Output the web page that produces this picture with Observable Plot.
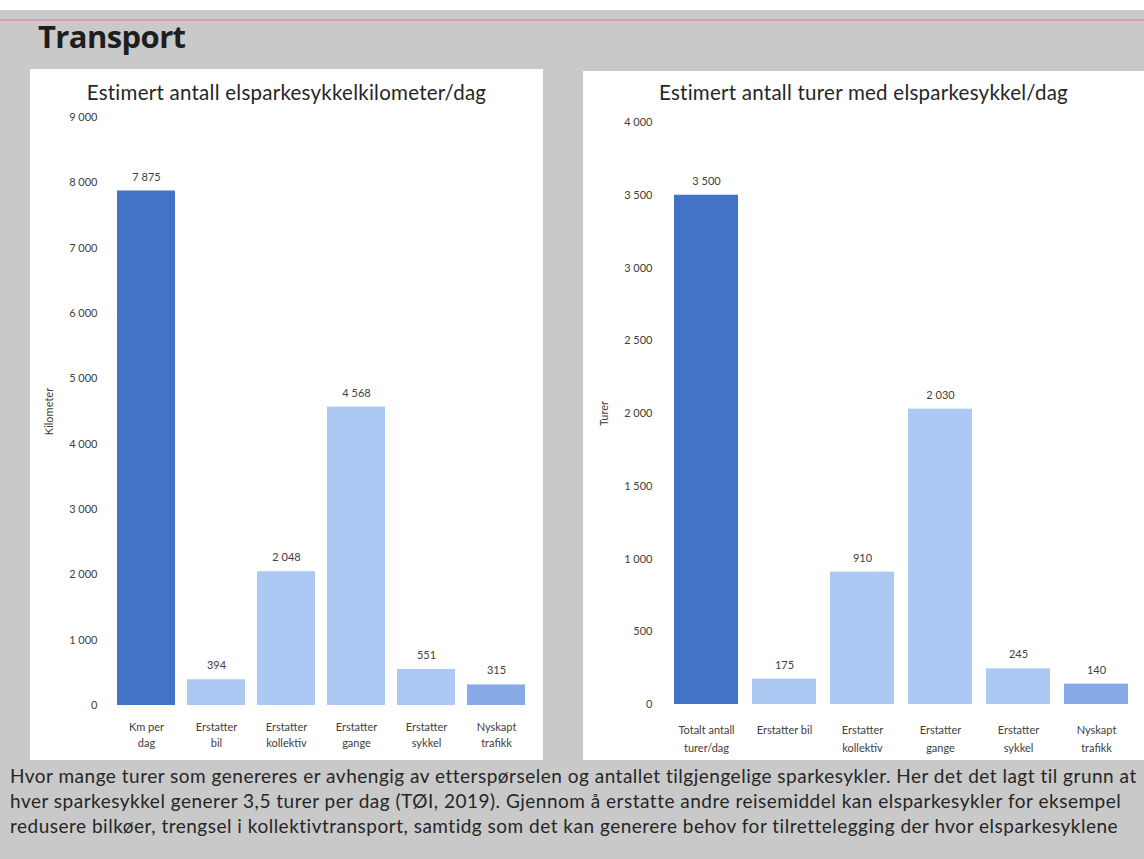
<!DOCTYPE html>
<html><head><meta charset="utf-8">
<script src="https://cdn.jsdelivr.net/npm/d3@7"></script>
<script src="https://cdn.jsdelivr.net/npm/@observablehq/plot@0.6"></script>
<style>
body{margin:0;width:1144px;height:859px;overflow:hidden;background:#c9c9c9;font-family:Lato,sans-serif;position:relative}
#topstrip{position:absolute;left:0;top:0;width:1144px;height:10px;background:#fff}
#rule{position:absolute;left:0;top:19px;width:1144px;height:2px;background:#d89ab2}
#title{position:absolute;left:38px;top:15px;font-family:"Open Sans",sans-serif;font-weight:700;font-size:31px;color:#1e1e1e;letter-spacing:-0.6px}
.panel{position:absolute;background:#fff}
#p1{left:30px;top:69px;width:513px;height:691px}
#p2{left:583px;top:71px;width:561px;height:689px}
.ptitle{position:absolute;left:0;width:100%;text-align:center;font-size:20.5px;letter-spacing:0.25px;color:#262626;white-space:nowrap}
#p1 .ptitle{top:11px}
#p2 .ptitle{top:9px;padding-left:0px;box-sizing:border-box}
.panel svg{position:absolute;left:0;top:0}
#caption{position:absolute;left:10px;top:763px;font-size:19px;letter-spacing:0.5px;line-height:25px;color:#262626;white-space:nowrap}
</style></head><body>
<div id="topstrip"></div><div id="rule"></div>
<div id="title">Transport</div>
<div class="panel" id="p1"><div class="ptitle">Estimert antall elsparkesykkelkilometer/dag</div></div>
<div class="panel" id="p2"><div class="ptitle">Estimert antall turer med elsparkesykkel/dag</div></div>
<div id="caption">Hvor mange turer som genereres er avhengig av etterspørselen og antallet tilgjengelige sparkesykler. Her det det lagt til grunn at<br>hver sparkesykkel generer 3,5 turer per dag (TØI, 2019). Gjennom å erstatte andre reisemiddel kan elsparkesykler for eksempel<br>redusere bilkøer, trengsel i kollektivtransport, samtidg som det kan generere behov for tilrettelegging der hvor elsparkesyklene</div>
<script>
// Left chart data
const kmCategories = ["Km per dag","Erstatter bil","Erstatter kollektiv","Erstatter gange","Erstatter sykkel","Nyskapt trafikk"];
const kmLabels = ["Km per\ndag","Erstatter\nbil","Erstatter\nkollektiv","Erstatter\ngange","Erstatter\nsykkel","Nyskapt\ntrafikk"];
const kmValues = [7875, 394, 2048, 4568, 551, 315];
const kmTicks = [0, 1000, 2000, 3000, 4000, 5000, 6000, 7000, 8000, 9000];

// Right chart data
const tripCategories = ["Totalt antall turer/dag","Erstatter bil","Erstatter kollektiv","Erstatter gange","Erstatter sykkel","Nyskapt trafikk"];
const tripLabels = ["Totalt antall\nturer/dag","Erstatter bil","Erstatter\nkollektiv","Erstatter\ngange","Erstatter\nsykkel","Nyskapt\ntrafikk"];
const tripValues = [3500, 175, 910, 2030, 245, 140];
const tripTicks = [0, 500, 1000, 1500, 2000, 2500, 3000, 3500, 4000];

const barColors = ["#4373c6", "#abc9f2", "#abc9f2", "#abc9f2", "#abc9f2", "#88abe8"];
const fmt = v => d3.format(",")(v).replace(/,/g, " ");

function chart(o) {
  const data = o.cats.map((c, i) => ({cat: c, value: o.values[i], i}));
  return Plot.plot({
    width: o.width, height: o.height,
    marginTop: o.mt, marginBottom: o.mb, marginLeft: o.ml, marginRight: o.mr,
    style: {fontFamily: "Lato, sans-serif", fontSize: "11px", color: "#404040", background: "transparent"},
    x: {domain: o.cats, paddingInner: o.pi, paddingOuter: o.po, label: null},
    y: {domain: [0, o.max], label: null},
    color: {type: "identity"},
    marks: [
      Plot.axisY({ticks: o.ticks, tickSize: 0, tickPadding: 14, tickFormat: fmt, label: o.label,
        labelAnchor: "center", labelArrow: "none", labelOffset: o.labelOffset, fontSize: 11}),
      Plot.axisX({tickSize: 0, tickPadding: o.xpad, tickFormat: d => o.labels[o.cats.indexOf(d)], lineHeight: o.lh, fontSize: 11}),
      Plot.barY(data, {x: "cat", y: "value", fill: d => barColors[d.i]}),
      Plot.text(data, {x: "cat", y: "value", text: d => fmt(d.value), dy: -14, fill: "#404040", fontSize: 11})
    ]
  });
}

document.getElementById("p1").appendChild(chart({
  cats: kmCategories, labels: kmLabels, values: kmValues, ticks: kmTicks, max: 9000,
  label: "Kilometer", width: 513, height: 691, mt: 48, mb: 55, ml: 81, mr: 12,
  pi: 0.17, po: 0.085, labelOffset: 66, xpad: 14, lh: 1.45
}));
document.getElementById("p2").appendChild(chart({
  cats: tripCategories, labels: tripLabels, values: tripValues, ticks: tripTicks, max: 4000,
  label: "Turer", width: 561, height: 689, mt: 51, mb: 56, ml: 83, mr: 8,
  pi: 0.18, po: 0.09, labelOffset: 66, xpad: 17, lh: 1.6
}));
</script>
</body></html>
